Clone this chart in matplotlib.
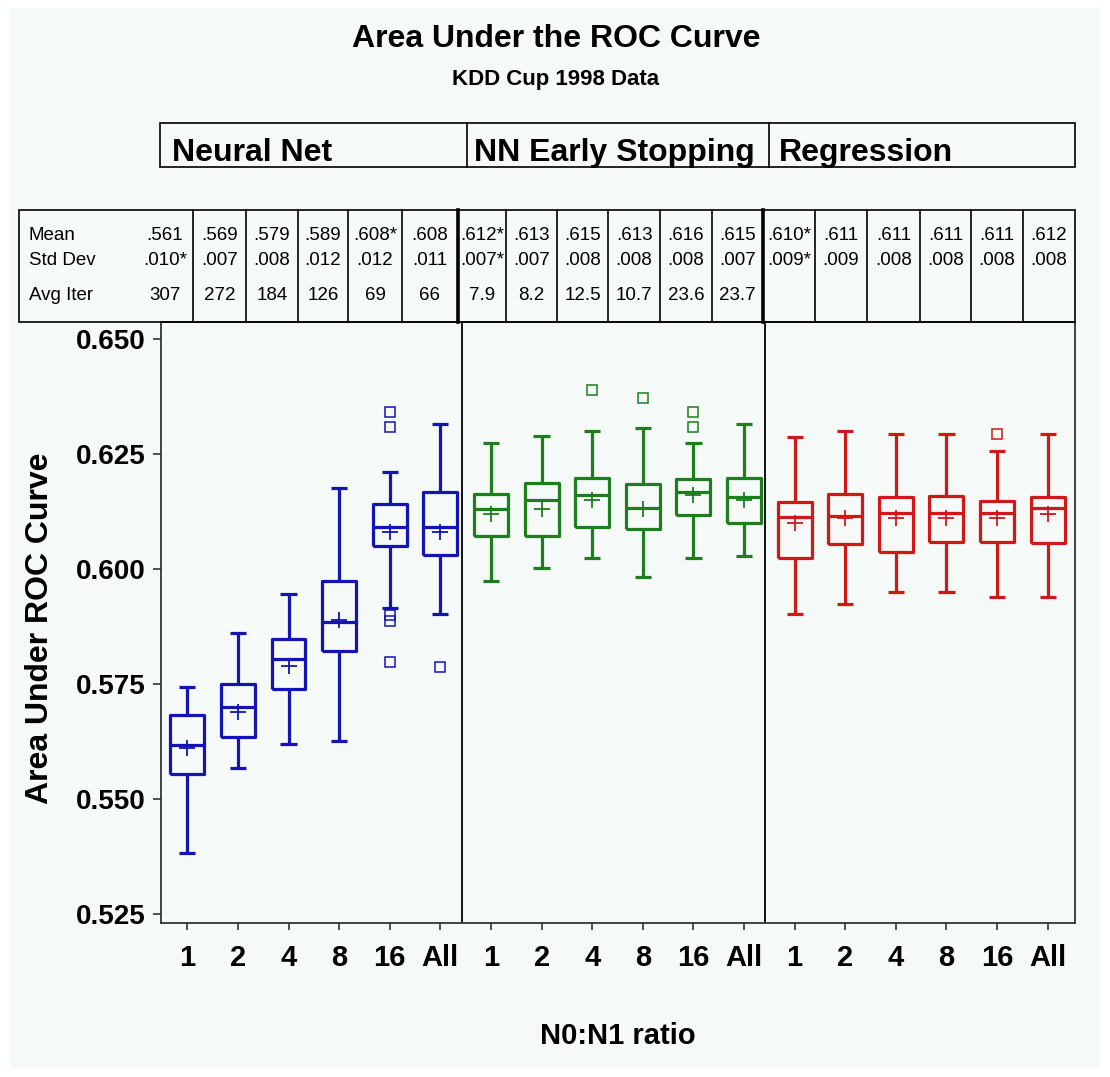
import matplotlib
matplotlib.use('Agg')
import matplotlib.pyplot as plt
from matplotlib.lines import Line2D
from matplotlib.patches import Rectangle

plt.rcParams['font.family'] = ['Liberation Sans', 'DejaVu Sans']

# ---- data -------------------------------------------------------------
methods = ['Neural Net', 'NN Early Stopping', 'Regression']
ratios = ['1', '2', '4', '8', '16', 'All']
colors = ['#1414B4', '#1E7D1E', '#D01818']

mean_txt = ['.561', '.569', '.579', '.589', '.608*', '.608',
            '.612*', '.613', '.615', '.613', '.616', '.615',
            '.610*', '.611', '.611', '.611', '.611', '.612']
std_txt = ['.010*', '.007', '.008', '.012', '.012', '.011',
           '.007*', '.007', '.008', '.008', '.008', '.007',
           '.009*', '.009', '.008', '.008', '.008', '.008']
iter_txt = ['307', '272', '184', '126', '69', '66',
            '7.9', '8.2', '12.5', '10.7', '23.6', '23.7',
            '', '', '', '', '', '']

whis_hi = [0.5744, 0.5860, 0.5945, 0.6177, 0.6210, 0.6315,
           0.6275, 0.6290, 0.6299, 0.6306, 0.6275, 0.6315,
           0.6288, 0.6299, 0.6293, 0.6293, 0.6257, 0.6293]
q3 = [0.5683, 0.5750, 0.5847, 0.5974, 0.6141, 0.6167,
      0.6162, 0.6188, 0.6198, 0.6185, 0.6195, 0.6198,
      0.6146, 0.6162, 0.6157, 0.6159, 0.6148, 0.6157]
medians = [0.5617, 0.5699, 0.5804, 0.5884, 0.6092, 0.6092,
           0.6130, 0.6150, 0.6160, 0.6132, 0.6167, 0.6157,
           0.6112, 0.6116, 0.6121, 0.6121, 0.6121, 0.6132]
q1 = [0.5554, 0.5634, 0.5739, 0.5822, 0.6049, 0.6030,
      0.6072, 0.6072, 0.6092, 0.6087, 0.6118, 0.6099,
      0.6023, 0.6054, 0.6036, 0.6058, 0.6058, 0.6056]
whis_lo = [0.5382, 0.5567, 0.5619, 0.5626, 0.5916, 0.5902,
           0.5974, 0.6003, 0.6023, 0.5982, 0.6023, 0.6028,
           0.5902, 0.5923, 0.5949, 0.5949, 0.5940, 0.5940]
outliers = [[], [], [], [], [0.6342, 0.6309, 0.5900, 0.5887, 0.5798], [0.5786],
            [], [], [0.6389], [0.6371], [0.6342, 0.6308], [],
            [], [], [], [], [0.6293], []]

means = [float(s.rstrip('*')) for s in mean_txt]

# ---- figure -----------------------------------------------------------
W, H = 1110, 1077
BG = '#F5F9F7'


def fx(x):
    return x / W


def fy(y):
    return 1 - y / H


def vline(fig, x, y0, y1, lw=1.2):
    fig.add_artist(Line2D([fx(x), fx(x)], [fy(y0), fy(y1)], color='black', lw=lw))


fig = plt.figure(figsize=(W / 100, H / 100), dpi=100)
fig.patch.set_facecolor('white')
fig.add_artist(Rectangle((fx(10), fy(1068)), fx(1100) - fx(10), fy(8) - fy(1068),
                         transform=fig.transFigure, facecolor=BG, edgecolor='none', zorder=-10))

ax_l, ax_r, ax_t, ax_b = 161, 1075, 322, 923
ax = fig.add_axes([fx(ax_l), fy(ax_b), fx(ax_r) - fx(ax_l), fy(ax_t) - fy(ax_b)])
ax.set_facecolor(BG)

positions = list(range(1, 19))
stats = []
for i in range(18):
    stats.append(dict(med=medians[i], q1=q1[i], q3=q3[i], whislo=whis_lo[i],
                      whishi=whis_hi[i], mean=means[i], fliers=outliers[i]))

for g, c in enumerate(colors):
    sl = slice(g * 6, g * 6 + 6)
    line = dict(color=c, lw=2.3, solid_capstyle='butt')
    ax.bxp(stats[sl], positions=positions[sl], widths=0.67, capwidths=0.32,
           showmeans=True, manage_ticks=False,
           boxprops=line, whiskerprops=line, capprops=line, medianprops=line,
           meanprops=dict(marker='+', markeredgecolor=c, markersize=11, markeredgewidth=1.3),
           flierprops=dict(marker='s', markerfacecolor='none', markeredgecolor=c,
                           markersize=7, markeredgewidth=1.1))

for xs in (6.42, 12.42):
    ax.axvline(xs, color='black', lw=1.3)

ax.set_xlim(0.48, 18.54)
ax.set_ylim(0.52304, 0.6537)
ax.set_yticks([0.525, 0.550, 0.575, 0.600, 0.625, 0.650])
ax.set_yticklabels(['%.3f' % v for v in ax.get_yticks()], fontsize=20, fontweight='bold')
ax.set_xticks(positions)
ax.set_xticklabels(ratios * 3, fontsize=21, fontweight='bold')
ax.tick_params(axis='y', direction='out', length=6, width=1.2, pad=5, colors='#333333',
               labelcolor='black')
ax.tick_params(axis='x', direction='out', length=5, width=1.2, pad=10, colors='#333333',
               labelcolor='black')
for sp in ax.spines.values():
    sp.set_color('#333333')
    sp.set_linewidth(1.3)

ax.set_xlabel('N0:N1 ratio', fontsize=21, fontweight='bold', labelpad=36)
fig.text(fx(40), fy(628), 'Area Under ROC Curve', rotation=90, fontsize=23,
         fontweight='bold', ha='center', va='center')

# ---- titles -----------------------------------------------------------
fig.text(fx(556), fy(39), 'Area Under the ROC Curve', fontsize=23, fontweight='bold',
         ha='center', va='center')
fig.text(fx(556), fy(80), 'KDD Cup 1998 Data', fontsize=16, fontweight='bold',
         ha='center', va='center')

# ---- method header ----------------------------------------------------
hx0, hx1, hy0, hy1 = 160, 1075, 123, 167
fig.add_artist(Rectangle((fx(hx0), fy(hy1)), fx(hx1) - fx(hx0), fy(hy0) - fy(hy1),
                         transform=fig.transFigure, facecolor='none', edgecolor='black', lw=1.2))
for x in (467, 769):
    vline(fig, x, hy0, hy1)
for x, name in zip((172, 474, 779), methods):
    fig.text(fx(x), fy(161), name, fontsize=23, fontweight='bold', ha='left', va='baseline')

# ---- summary table ----------------------------------------------------
tx0, tx1, ty0, ty1 = 19, 1075, 210, 322
fig.add_artist(Rectangle((fx(tx0), fy(ty1)), fx(tx1) - fx(tx0), fy(ty0) - fy(ty1),
                         transform=fig.transFigure, facecolor='none', edgecolor='black', lw=1.2))
bounds = [tx0, 193, 246, 298, 348, 402, 458, 506, 557, 608, 660, 712,
          763, 815, 867, 920, 971, 1023, tx1]
for k, x in enumerate(bounds[1:-1], start=1):
    vline(fig, x, ty0, ty1, lw=2.6 if k in (6, 12) else 1.2)

centers = [165] + [(bounds[k] + bounds[k + 1]) / 2 for k in range(1, 18)]
row_y = [240, 265, 300]
for label, y in zip(['Mean', 'Std Dev', 'Avg Iter'], row_y):
    fig.text(fx(29), fy(y), label, fontsize=13.5, ha='left', va='baseline')
for k in range(18):
    for txt, y in zip((mean_txt[k], std_txt[k], iter_txt[k]), row_y):
        if txt:
            fig.text(fx(centers[k]), fy(y), txt, fontsize=13.5, ha='center', va='baseline')

fig.savefig('out.png', dpi=100, facecolor=fig.get_facecolor())
